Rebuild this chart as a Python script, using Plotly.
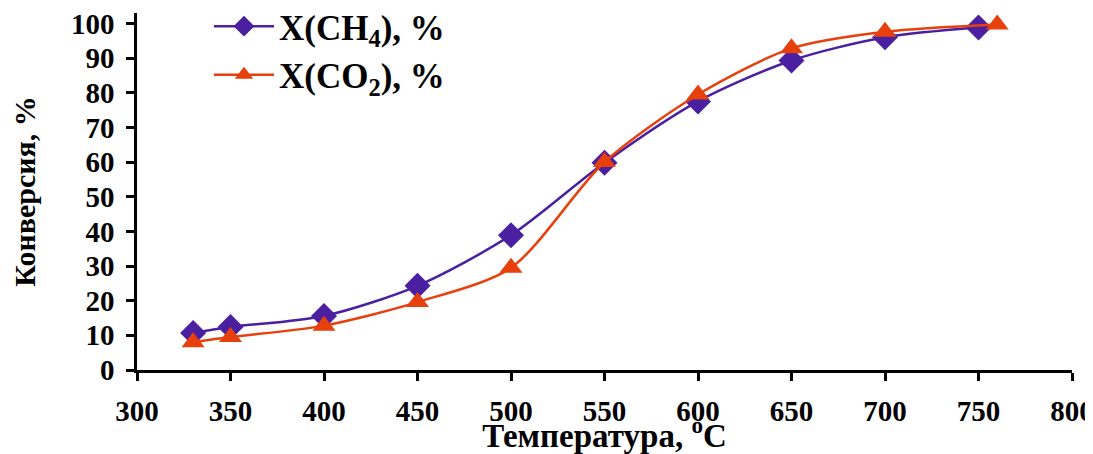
import plotly.graph_objects as go

t_ch4 = [330, 350, 400, 450, 500, 550, 600, 650, 700, 750]
x_ch4 = [10.7, 12.4, 15.6, 24.3, 38.9, 59.8, 77.5, 89.3, 96.0, 98.8]
t_co2 = [330, 350, 400, 450, 500, 550, 600, 650, 700, 760]
x_co2 = [8.0, 9.5, 12.8, 19.6, 29.5, 60.0, 79.5, 92.8, 97.6, 99.7]
x_ticks = [300, 350, 400, 450, 500, 550, 600, 650, 700, 750, 800]
y_ticks = [0, 10, 20, 30, 40, 50, 60, 70, 80, 90, 100]

FONT = "Liberation Serif"
purple = "#4a1fa0"
orange = "#e8400c"

fig = go.Figure()
fig.add_trace(go.Scatter(
    x=t_ch4, y=x_ch4, mode="lines+markers", name="<b>X(CH<sub>4</sub>), %</b>",
    line=dict(color=purple, width=2.5, shape="spline", smoothing=0.8),
    marker=dict(symbol="diamond", size=20, color=purple),
))
fig.add_trace(go.Scatter(
    x=t_co2, y=x_co2, mode="lines+markers", name="<b>X(CO<sub>2</sub>), %</b>",
    line=dict(color=orange, width=2.5, shape="spline", smoothing=0.8),
    marker=dict(symbol="triangle-up", size=20, color=orange),
))

# page body has an 8px margin, so the figure is drawn 8px right/down
fig.update_layout(
    width=1085, height=446,
    margin=dict(l=129, r=21, t=5, b=84, autoexpand=False),
    paper_bgcolor="white", plot_bgcolor="white",
    font=dict(family=FONT, size=29, color="black"),
    showlegend=True,
    legend=dict(x=0.077, y=1.045, xanchor="left", yanchor="top",
                font=dict(family=FONT, size=35, color="black"),
                bgcolor="rgba(0,0,0,0)", itemwidth=60, tracegroupgap=0),
    xaxis=dict(
        range=[300, 800], tickvals=x_ticks, ticktext=[f"<b>{v}</b>" for v in x_ticks],
        showgrid=False, zeroline=False, showline=True, linecolor="black", linewidth=2.5,
        ticks="outside", ticklen=8, tickwidth=2.5, tickcolor="black",
        ticklabelstandoff=5, automargin=False, ticklabeloverflow="allow",
        title=dict(text="<b>Температура, <sup>o</sup>C</b>", font=dict(family=FONT, size=33), standoff=10),
    ),
    yaxis=dict(
        range=[0, 103], tickvals=y_ticks, ticktext=[f"<b>{v}</b>" for v in y_ticks],
        showgrid=False, zeroline=False, showline=True, linecolor="black", linewidth=2.5,
        ticks="outside", ticklen=8, tickwidth=2.5, tickcolor="black",
        ticklabelstandoff=6, automargin=False, ticklabeloverflow="allow",
        title=dict(text="<b>Конверсия, %</b>", font=dict(family=FONT, size=30), standoff=28),
    ),
)

fig.write_html("out.html")
